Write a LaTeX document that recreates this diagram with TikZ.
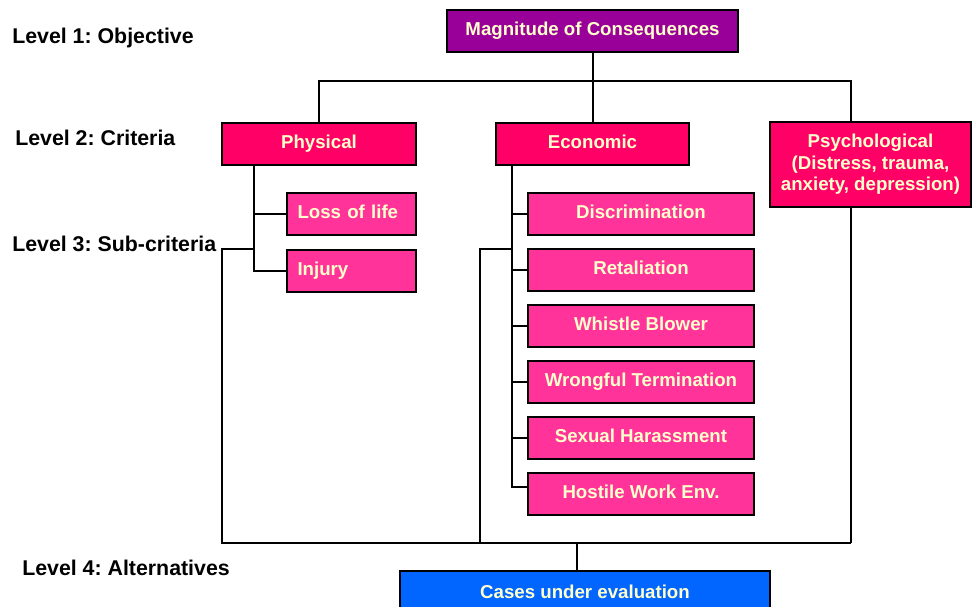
\documentclass[tikz,border=0pt]{standalone}
\usepackage{fontspec}
\setmainfont{Liberation Sans}
\usepackage{xcolor}
\usepackage{tikz}
\usetikzlibrary{positioning, calc}
\frenchspacing
\definecolor{goalpurple}{HTML}{990099}
\definecolor{critpink}{HTML}{FF0066}
\definecolor{subpink}{HTML}{FF3399}
\definecolor{altblue}{HTML}{0066FF}
\definecolor{boxtext}{HTML}{FFFFCC}
\tikzset{
  levellabel/.style={
    anchor=west, inner sep=0pt,
    font=\fontsize{16}{18}\selectfont\bfseries
  },
  hierbox/.style={
    draw=black, line width=1.5pt, align=center, inner sep=2pt,
    text=boxtext, font=\fontsize{14}{16}\selectfont\bfseries,
    minimum height=31.5pt
  },
  goalbox/.style={hierbox, fill=goalpurple, minimum width=218pt},
  critbox/.style={hierbox, fill=critpink, minimum width=145pt},
  subbox/.style={hierbox, fill=subpink, minimum width=169.5pt,
    text height=10pt, text depth=3pt},
  altbox/.style={hierbox, fill=altblue, minimum width=277.5pt},
  hierlink/.style={line width=1.5pt, draw=black}
}

\begin{document}
\begin{tikzpicture}[x=0.75pt, y=-0.75pt]
  \useasboundingbox (0,0) rectangle (972,607);

  % ── Level labels ──
  \node[levellabel] (lev1) at (12,38) {Level 1: Objective};
  \node[levellabel] (lev2) at (15,138) {Level 2: Criteria};
  \node[levellabel] (lev3) at (12,244) {Level 3: Sub-criteria};
  \node[levellabel] (lev4) at (22,568) {Level 4: Alternatives};

  % ── Objective and criteria ──
  \node[goalbox] (goal) at (592.5,31) {Magnitude of Consequences};
  \node[critbox, text height=10pt, text depth=3pt] (phys) at (319,144) {Physical};
  \node[critbox, text height=10pt, text depth=3pt] (econ) at (592.5,144) {Economic};
  \node[critbox, minimum width=150.75pt, minimum height=63.75pt] (psych)
    at (870.5,164.5) {Psychological\\(Distress, trauma,\\anxiety, depression)};

  \coordinate (busTop) at (592.5,81);
  \coordinate (psychLink) at ($(psych.north)+(-19.5,0)$);
  \draw[hierlink] (goal) -- (busTop);
  \draw[hierlink] (busTop) -| (phys);
  \draw[hierlink] (busTop) -| (psychLink);
  \draw[hierlink] (busTop) -- (econ);

  % ── Sub-criteria ──
  \node[subbox, minimum width=96.75pt, align=left, text width=81pt] (loss)
    at (351.5,214) {Loss of life};
  \node[subbox, minimum width=96.75pt, align=left, text width=81pt] (injury)
    at (351.5,271) {Injury};

  \node[subbox] (discr) at (641,214) {Discrimination};
  \node[subbox, below=9pt of discr] (retal) {Retaliation};
  \node[subbox, below=9pt of retal] (whistle) {Whistle Blower};
  \node[subbox, below=9pt of whistle] (wrong) {Wrongful Termination};
  \node[subbox, below=9pt of wrong] (sexual) {Sexual Harassment};
  \node[subbox, below=9pt of sexual] (hostile) {Hostile Work Env.};

  \coordinate (physTrunk) at ($(phys.south)+(-65,0)$);
  \draw[hierlink] (physTrunk) |- (injury.west);
  \draw[hierlink] (physTrunk |- loss.west) -- (loss.west);

  \coordinate (econTrunk) at ($(econ.south)+(-80.5,0)$);
  \draw[hierlink] (econTrunk) |- ($(hostile.west)+(0,-7)$);
  \foreach \sub in {discr, retal, whistle, wrong, sexual}
    \draw[hierlink] (econTrunk |- \sub.west) -- (\sub.west);

  % ── Alternatives ──
  \node[altbox] (cases) at (585,592) {Cases under evaluation};

  \coordinate (busLeft) at (222,543);
  \coordinate (busMid) at (480,543);
  \coordinate (busRight) at (851,543);
  \coordinate (busAlt) at (577,543);
  \draw[hierlink] (physTrunk |- 0,249) -| (busLeft) -- (busRight);
  \draw[hierlink] (econTrunk |- 0,249) -| (busMid);
  \draw[hierlink] (psych.south -| busRight) -- (busRight);
  \draw[hierlink] (busAlt) -- (busAlt |- cases.north);
\end{tikzpicture}
\end{document}
